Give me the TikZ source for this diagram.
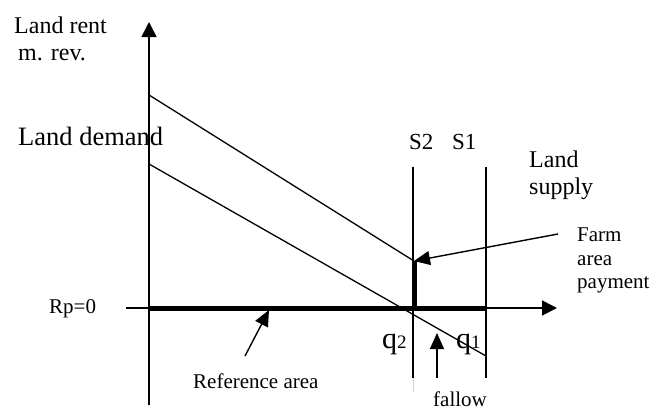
\documentclass[tikz,border=0pt]{standalone}
\usepackage{fontspec}
\setmainfont{Liberation Serif}
\usetikzlibrary{arrows.meta, calc, positioning}
\newcommand{\lblsize}[1]{\fontsize{#1}{#1}\selectfont}
\tikzset{
  axis/.style={line width=1.6pt, -{Triangle[length=15pt, width=15pt]}},
  curve/.style={line width=1.3pt},
  quota/.style={line width=5pt},
  pointer/.style={line width=1.4pt, -{Triangle[length=16pt, width=14pt]}},
  lbl/.style={inner sep=0pt, anchor=base west},
}
\begin{document}
\begin{tikzpicture}[x=1pt, y=-1pt]
  \useasboundingbox (0,0) rectangle (654,410);

  % ----- axes -----
  \coordinate (origin) at (149,308);
  \coordinate (ybot)   at (149,405);
  \coordinate (ytop)   at (149,22);
  \coordinate (xleft)  at (126,308);
  \coordinate (xright) at (557,308);
  \draw[axis] (ybot) -- (ytop);
  \draw[axis] (xleft) -- (xright);

  % ----- supply and demand -----
  \coordinate (s2top) at (413,167);  \coordinate (s2bot) at (413,378);
  \coordinate (s1top) at (486,167);  \coordinate (s1bot) at (486,378);
  \coordinate (d1start) at (149,95);  \coordinate (pay) at (414,261);
  \coordinate (d2start) at (149,164); \coordinate (d2end) at (486,356);
  \draw[curve] (s2top) -- (s2bot);
  \draw[gray!35, thin] (s2bot) -- ++(0,14);          % faint tail
  \draw[curve] (s1top) -- (s1bot);
  \draw[curve] (d1start) -- (pay);
  \draw[curve] (d2start) -- (d2end);

  % ----- payment and area -----
  \coordinate (q2pt) at (414,308);
  \coordinate (q1pt) at (486,308);
  \draw[quota] (origin) -- (q1pt);
  \draw[quota] (q2pt) -- (pay);

  % ----- labels -----
  \node[lbl, font=\lblsize{24}] (rent) at (14,33) {Land rent};
  \node[lbl, font=\lblsize{24}] (mrev) at (18,60) {m. rev.};
  \node[lbl, font=\lblsize{26.5}] (demand) at (18,145) {Land demand};
  \node[lbl, font=\lblsize{23}] (S2) at (409,149) {S2};
  \node[lbl, font=\lblsize{23}] (S1) at (452,149) {S1};
  \node[lbl, font=\lblsize{24}] (supply1) at (529,167) {Land};
  \node[lbl, font=\lblsize{24}] (supply2) at (529,194) {supply};
  \node[lbl, font=\lblsize{21}] (farm1) at (577,241) {Farm};
  \node[lbl, font=\lblsize{21}] (farm2) at (577,265) {area};
  \node[lbl, font=\lblsize{21}] (farm3) at (577,288) {payment};
  \node[lbl, font=\lblsize{21}] (rp) at (49,313) {Rp=0};
  \node[lbl, font=\lblsize{21}] (refarea) at (193,388) {Reference area};
  \node[lbl, font=\lblsize{21}] (fallow) at (433,406) {fallow};
  \node[lbl, font=\lblsize{30}] (q2) at (382,348) {q\lblsize{19}2};
  \node[lbl, font=\lblsize{30}] (q1) at (456,348) {q\lblsize{19}1};

  % ----- pointers -----
  \coordinate (reftail) at (245,356);  \coordinate (reftip) at (269,310);
  \coordinate (falltail) at (437,378); \coordinate (falltip) at (437,333);
  \coordinate (farmtail) at (558,234);
  \draw[pointer] (reftail) -- (reftip);
  \draw[pointer] (falltail) -- (falltip);
  \draw[pointer] (farmtail) -- (pay);
\end{tikzpicture}
\end{document}
